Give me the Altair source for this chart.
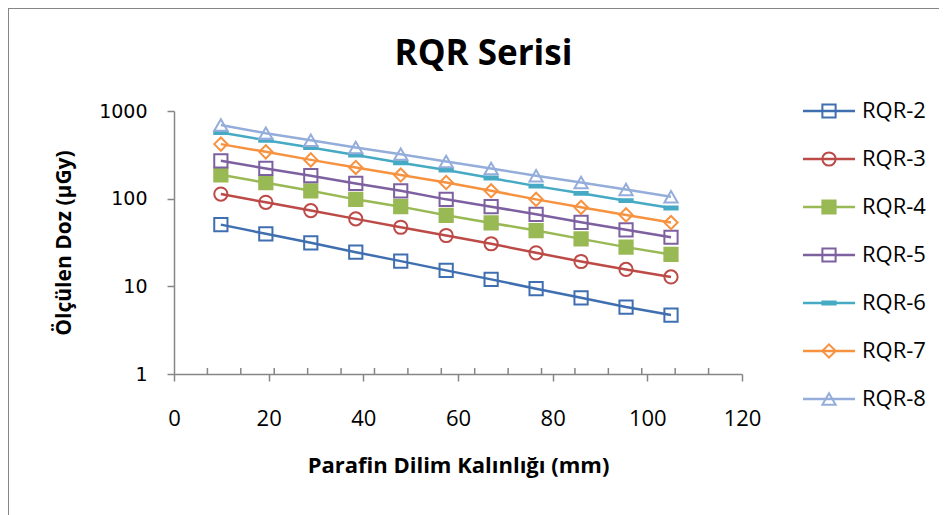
import altair as alt
import pandas as pd

# ---- data ----
thickness = [9.9, 19.4, 28.9, 38.4, 47.9, 57.5, 67.0, 76.5, 86.0, 95.5, 105.0]
series_names = ["RQR-2", "RQR-3", "RQR-4", "RQR-5", "RQR-6", "RQR-7", "RQR-8"]
rqr2 = [50.6, 39.7, 31.4, 24.5, 19.4, 15.2, 12.0, 9.4, 7.4, 5.8, 4.7]
rqr3 = [113, 90.8, 73.1, 58.8, 47.2, 38.0, 30.6, 24.1, 19.2, 15.6, 12.8]
rqr4 = [187, 152, 123, 98.2, 81.1, 64.6, 52.9, 43.3, 34.8, 28.0, 23.1]
rqr5 = [270, 221, 183, 149, 123, 98.2, 81.1, 66.3, 53.8, 44.1, 36.3]
rqr6 = [567, 464, 383, 314, 257, 212, 172, 139, 115, 94.9, 78.4]
rqr7 = [419, 342, 277, 227, 186, 153, 123, 98.2, 79.6, 65.3, 53.4]
rqr8 = [693, 558, 464, 383, 322, 265, 221, 183, 153, 127, 105]
x_ticks = [0, 20, 40, 60, 80, 100, 120]
y_ticks = [1, 10, 100, 1000]
minor_ticks = [120 * k / 17 for k in range(1, 17)]
chart_title = ["RQR Serisi"]

all_series = [rqr2, rqr3, rqr4, rqr5, rqr6, rqr7, rqr8]
rows = []
for name, vals in zip(series_names, all_series):
    for t, v in zip(thickness, vals):
        rows.append({"series": name, "thickness": t, "dose": v})
df = pd.DataFrame(rows)
legend_df = pd.DataFrame({"series": series_names, "idx": list(range(len(series_names)))})
minor_df = pd.DataFrame({"thickness": minor_ticks})
frame_df = pd.DataFrame({"a": [0]})
title_df = pd.DataFrame({"t": chart_title})

colors = ["#3F6FB0", "#BC4A47", "#98B954", "#7D60A0", "#46AAC5", "#F69240", "#94ADDA"]
shapes = ["square", "circle", "square", "square", "M-1,-0.22H1V0.22H-1Z", "diamond", "triangle-up"]
fills = ["transparent", "transparent", "#98B954", "transparent", "#46AAC5", "transparent", "transparent"]

W, H = 568, 263
GRAY = "#868686"
FONT = "Open Sans"

xenc = alt.X(
    "thickness:Q",
    scale=alt.Scale(domain=[0, 120], nice=False, zero=False),
    axis=alt.Axis(
        values=x_ticks, grid=False, tickSize=7, tickColor=GRAY, domainColor=GRAY,
        domainWidth=1.5, tickWidth=1.5, labelFlush=False, labelOverlap=False,
        labelFont=FONT, labelFontSize=22, labelColor="black", labelPadding=27,
        title="Parafin Dilim Kalınlığı (mm)", titleFont=FONT, titleFontSize=22,
        titleFontWeight="bold", titleColor="black", titlePadding=26,
    ),
)
yenc = alt.Y(
    "dose:Q",
    scale=alt.Scale(type="log", domain=[1, 1000], nice=False),
    axis=alt.Axis(
        values=y_ticks, format="d", grid=False, tickSize=7, tickColor=GRAY, domainColor=GRAY,
        domainWidth=1.5, tickWidth=1.5, labelFlush=False, labelOverlap=False,
        labelFont="DejaVu Sans", labelFontSize=19, labelColor="black", labelPadding=20,
        title="Ölçülen Doz (µGy)", titleFont=FONT, titleFontSize=21,
        titleFontWeight="bold", titleColor="black", titlePadding=24,
    ),
)

sc_color = alt.Scale(domain=series_names, range=colors)
color = alt.Color("series:N", scale=sc_color, legend=None)
stroke = alt.Stroke("series:N", scale=sc_color, legend=None)
fill = alt.Fill("series:N", scale=alt.Scale(domain=series_names, range=fills), legend=None)
shape = alt.Shape("series:N", scale=alt.Scale(domain=series_names, range=shapes), legend=None)

base = alt.Chart(df)
lines = base.mark_line(strokeWidth=2.5).encode(x=xenc, y=yenc, color=color, detail="series:N")
points = base.mark_point(filled=True, size=175, strokeWidth=2, opacity=1).encode(
    x=xenc, y=yenc, shape=shape, fill=fill, stroke=stroke
)
main = alt.layer(lines, points)

minor = alt.Chart(minor_df).mark_rule(color=GRAY, strokeWidth=1.5).encode(
    x=xenc, y=alt.value(H - 6), y2=alt.value(H)
)

frame = alt.Chart(frame_df).mark_rect(fill="transparent", stroke=GRAY, strokeWidth=2).encode(
    x=alt.value(-166), x2=alt.value(W + 400), y=alt.value(-103), y2=alt.value(H + 300)
)

title = alt.Chart(title_df).mark_text(
    font=FONT, fontSize=35, fontWeight="bold", color="black", align="center", baseline="alphabetic"
).encode(x=alt.value(309.5), y=alt.value(-46), text="t:N")

ly = alt.Y("idx:Q", scale=alt.Scale(domain=[0, 6], range=[0, 288]), axis=None)
lchart = alt.Chart(legend_df)
leg_rule = lchart.mark_rule(strokeWidth=2.5).encode(
    x=alt.value(629), x2=alt.value(681), y=ly, color=color
)
leg_point = lchart.mark_point(filled=True, size=175, strokeWidth=2, opacity=1).encode(
    x=alt.value(655), y=ly, shape=shape, fill=fill, stroke=stroke
)
leg_text = lchart.mark_text(align="left", baseline="middle", font=FONT, fontSize=22, color="black").encode(
    x=alt.value(688), y=ly, text="series:N"
)
legend = alt.layer(leg_rule, leg_point, leg_text)

chart = (
    alt.layer(frame, title, minor, main, legend)
    .resolve_scale(y="independent")
    .properties(
        width=W,
        height=H,
        autosize=alt.AutoSizeParams(type="none"),
        padding={"left": 166, "top": 103, "right": 197, "bottom": 141},
        background="white",
    )
    .configure_view(stroke=None)
)

chart.save("out.html", embed_options={"renderer": "svg", "actions": False})
